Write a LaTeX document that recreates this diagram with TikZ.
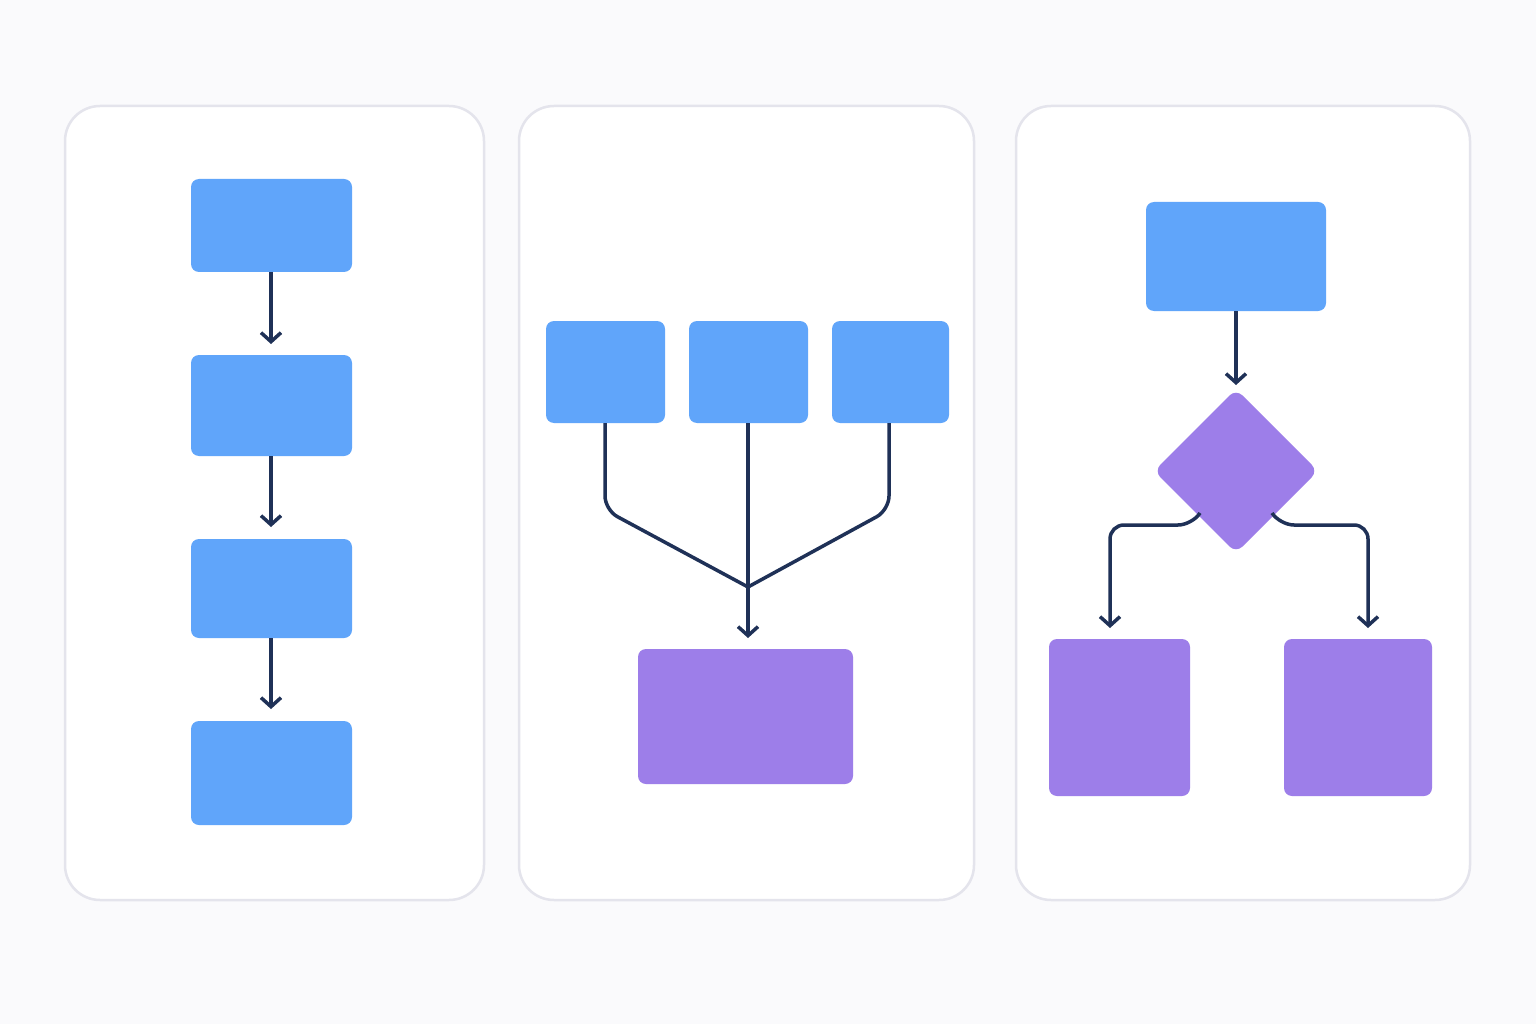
\documentclass[tikz,border=0pt]{standalone}
\usetikzlibrary{arrows.meta,shapes.geometric}
\definecolor{bg}{HTML}{FAFAFC}
\definecolor{blue}{HTML}{60A5FA}
\definecolor{purp}{HTML}{9D7EE9}
\definecolor{ink}{HTML}{1F3157}
\definecolor{pan}{HTML}{E4E4EC}
\begin{document}
\begin{tikzpicture}[x=1pt,y=-1pt,
 panel/.style={draw=pan,line width=2.5pt,fill=white,rounded corners=35pt},
 bb/.style={fill=blue,rounded corners=8pt},
 pb/.style={fill=purp,rounded corners=8pt},
 con/.style={draw=ink,line width=3.5pt,rounded corners=14pt},
 arr/.style={con,-{Straight Barb[length=9pt,width=20pt,line width=3.5pt]}}]
\useasboundingbox[fill=bg] (0,0) rectangle (1536,1024);
\draw[panel] (65,106) rectangle (484,900);
\draw[panel] (519,106) rectangle (974,900);
\draw[panel] (1016,106) rectangle (1470,900);
% panel 1
\path[bb] (191,179) rectangle (352,272) node[midway] (a1) {};
\path[bb] (191,355) rectangle (352,456) node[midway] (a2) {};
\path[bb] (191,539) rectangle (352,638) node[midway] (a3) {};
\path[bb] (191,721) rectangle (352,825) node[midway] (a4) {};
\coordinate (a1b) at (271,272); \coordinate (a2t) at (271,344);
\coordinate (a2b) at (271,456); \coordinate (a3t) at (271,527);
\coordinate (a3b) at (271,638); \coordinate (a4t) at (271,709);
\draw[arr] (a1b) -- (a2t);
\draw[arr] (a2b) -- (a3t);
\draw[arr] (a3b) -- (a4t);
% panel 2
\path[bb] (546,321) rectangle (665,423) node[midway] (b1) {};
\path[bb] (689,321) rectangle (808,423) node[midway] (b2) {};
\path[bb] (832,321) rectangle (949,423) node[midway] (b3) {};
\path[pb] (638,649) rectangle (853,784) node[midway] (b4) {};
\coordinate (j) at (748,587);
\draw[con] (605,423) -- (605,510) -- (j);
\draw[con] (889,423) -- (889,510) -- (j);
\coordinate (b4t) at (748,638);
\draw[arr,rounded corners=0pt] (748,423) -- (b4t);
% panel 3
\path[bb] (1146,202) rectangle (1326,311) node[midway] (c1) {};
\path[pb,rounded corners=9pt] (1236,389) -- (1318,471) -- (1236,553) -- (1154,471) -- cycle;
\node (d) at (1236,471) {};
\path[pb] (1049,639) rectangle (1190,796) node[midway] (c2) {};
\path[pb] (1284,639) rectangle (1432,796) node[midway] (c3) {};
\coordinate (dt) at (1236,385);
\draw[arr] (1236,311) -- (dt);
\coordinate (c2t) at (1110,628); \coordinate (c3t) at (1368,628);
\draw[arr] (1200,513) -- (1192,525) -- (1110,525) -- (c2t);
\draw[arr] (1272,513) -- (1280,525) -- (1368,525) -- (c3t);
\end{tikzpicture}
\end{document}
